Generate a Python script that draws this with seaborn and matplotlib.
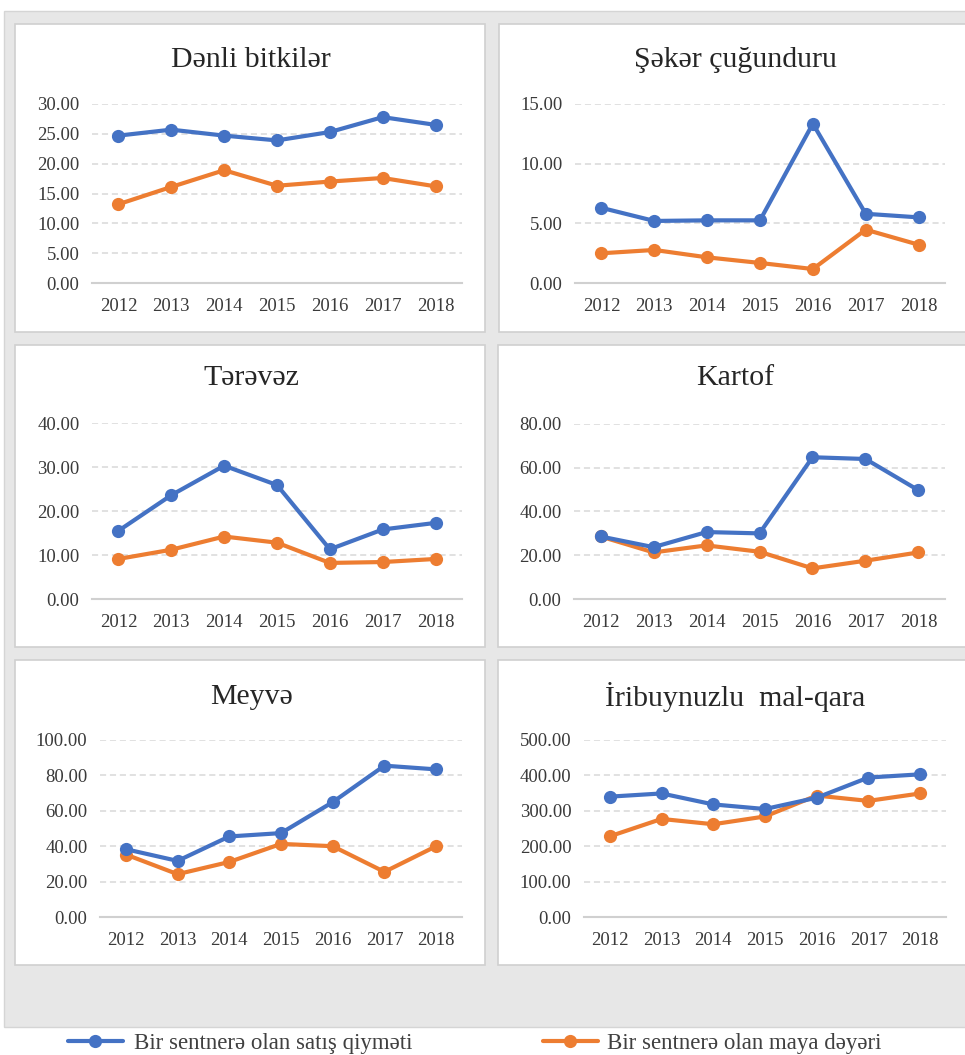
import matplotlib
matplotlib.use("Agg")
import matplotlib.pyplot as plt
from matplotlib.patches import Rectangle
from matplotlib.lines import Line2D
import seaborn as sns
import pandas as pd

# ---- data ----
years = ["2012", "2013", "2014", "2015", "2016", "2017", "2018"]

titles = ["Dənli bitkilər", "Şəkər çuğunduru", "Tərəvəz", "Kartof",
          "Meyvə", "İribuynuzlu  mal-qara"]

satis_denli = [24.7, 25.7, 24.7, 23.9, 25.3, 27.8, 26.5]
maya_denli = [13.2, 16.1, 18.9, 16.3, 17.0, 17.6, 16.2]

satis_seker = [6.3, 5.2, 5.25, 5.25, 13.35, 5.8, 5.5]
maya_seker = [2.49, 2.77, 2.15, 1.68, 1.17, 4.47, 3.21]

satis_terevez = [15.5, 23.6, 30.3, 25.9, 11.3, 15.8, 17.3]
maya_terevez = [9.1, 11.2, 14.2, 12.8, 8.2, 8.4, 9.1]

satis_kartof = [28.6, 23.7, 30.6, 30.0, 64.8, 64.0, 49.7]
maya_kartof = [28.6, 21.3, 24.5, 21.6, 14.0, 17.5, 21.3]

satis_meyve = [38.3, 31.7, 45.5, 47.4, 64.9, 85.5, 83.4]
maya_meyve = [35.3, 24.2, 31.1, 41.3, 40.0, 25.5, 40.0]

satis_mal = [340, 349, 318, 305, 337, 394, 403]
maya_mal = [228, 277, 262, 284, 343, 328, 349]

y_max = [30, 15, 40, 80, 100, 500]
y_step = [5, 5, 10, 20, 20, 100]

labels = ["Bir sentnerə olan satış qiyməti", "Bir sentnerə olan maya dəyəri"]

satis_all = [satis_denli, satis_seker, satis_terevez, satis_kartof, satis_meyve, satis_mal]
maya_all = [maya_denli, maya_seker, maya_terevez, maya_kartof, maya_meyve, maya_mal]

# ---- style ----
sns.set_style("white")
plt.rcParams['font.family'] = ['Liberation Serif', 'DejaVu Serif']

BLUE = "#4472C4"
ORANGE = "#ED7D31"
W, H = 965, 1055

fig = plt.figure(figsize=(W / 100, H / 100), dpi=100)
fig.patch.set_facecolor("white")


def px_rect(x0, y0, x1, y1):
    # pixel box (top-left origin) -> figure fraction
    return [x0 / W, 1 - y1 / H, (x1 - x0) / W, (y1 - y0) / H]


# grey backdrop
l, b, w, h = px_rect(4, 11, 975, 1027)
fig.patches.append(Rectangle((l, b), w, h, transform=fig.transFigure,
                             facecolor="#e7e7e7", edgecolor="#d5d5d5", lw=1, zorder=-3))

# white panels
panels = [(15, 24, 485, 332), (499, 24, 978, 332),
          (15, 345, 485, 647), (498, 345, 978, 647),
          (15, 660, 485, 965), (498, 660, 978, 965)]
for (x0, y0, x1, y1) in panels:
    l, b, w, h = px_rect(x0, y0, x1, y1)
    fig.patches.append(Rectangle((l, b), w, h, transform=fig.transFigure,
                                 facecolor="white", edgecolor="#d0d0d0", lw=1.2, zorder=-2))

# plot areas and titles
axes_px = [(92, 104, 462, 283), (575, 104, 945, 283),
           (92, 423, 462, 599), (574, 424, 945, 599),
           (100, 740, 462, 917), (584, 740, 946, 917)]
title_pos = [(251, 60), (735, 60), (251, 378), (735, 378), (251, 697), (735, 697)]

for i in range(6):
    ax = fig.add_axes(px_rect(*axes_px[i]))
    ax.set_zorder(2)
    ax.set_facecolor("none")
    df = pd.DataFrame({"year": list(range(len(years))),
                       "satis": satis_all[i], "maya": maya_all[i]})
    sns.lineplot(data=df, x="year", y="satis", ax=ax, color=BLUE, marker="o",
                 markersize=9.5, markeredgewidth=0, linewidth=3, zorder=4)
    sns.lineplot(data=df, x="year", y="maya", ax=ax, color=ORANGE, marker="o",
                 markersize=9.5, markeredgewidth=0, linewidth=3, zorder=3)

    ax.set_xlim(-0.5, len(years) - 0.5)
    ax.set_ylim(0, y_max[i])
    ticks = list(range(0, y_max[i] + 1, y_step[i]))
    ax.set_yticks(ticks)
    ax.set_yticklabels([f"{t:.2f}" for t in ticks])
    ax.set_xticks(range(len(years)))
    ax.set_xticklabels(years)
    ax.set_xlabel("")
    ax.set_ylabel("")
    ax.tick_params(length=0, labelsize=13.5, labelcolor="#3a3a3a")
    ax.tick_params(axis="x", pad=11)
    ax.tick_params(axis="y", pad=9)
    for t in ticks[1:]:
        ax.axhline(t, color="#d9d9d9", lw=1.1, ls=(0, (4, 2.5)), zorder=1)
    for s in ["top", "right", "left"]:
        ax.spines[s].set_visible(False)
    ax.spines["bottom"].set_color("#d0d0d0")
    ax.spines["bottom"].set_linewidth(1.5)
    ax.grid(False)

    tx, ty = title_pos[i]
    fig.text(tx / W, 1 - ty / H, titles[i], ha="center", va="center",
             fontsize=21.5, color="#262626")

# legend below the grey area
h_blue = Line2D([], [], color=BLUE, lw=3, marker="o", markersize=9.5, markeredgewidth=0)
h_orange = Line2D([], [], color=ORANGE, lw=3, marker="o", markersize=9.5, markeredgewidth=0)
leg1 = fig.legend([h_blue], [labels[0]], loc="center left",
                  bbox_to_anchor=(47 / W, 1 - 1043 / H), frameon=False,
                  fontsize=16.5, handlelength=2.4, handletextpad=0.5)
leg2 = fig.legend([h_orange], [labels[1]], loc="center left",
                  bbox_to_anchor=(522 / W, 1 - 1043 / H), frameon=False,
                  fontsize=16.5, handlelength=2.4, handletextpad=0.4)
for leg in (leg1, leg2):
    for t in leg.get_texts():
        t.set_color("#404040")

fig.savefig("out.png", dpi=100)
